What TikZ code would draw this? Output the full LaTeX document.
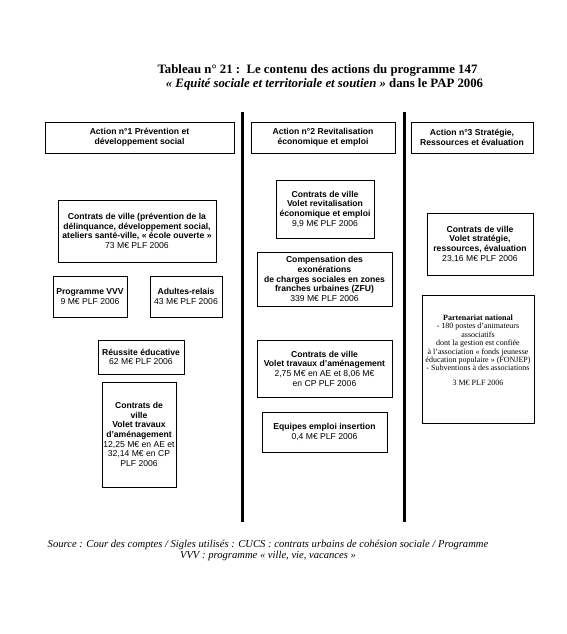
\documentclass[tikz,border=0pt]{standalone}
\usepackage{fontspec}
\setmainfont{Liberation Serif}
\setsansfont{Liberation Sans}
\begin{document}
\begin{tikzpicture}[x=1pt,y=-1pt,
	cadre/.style={draw,line width=0.7pt,align=center,inner sep=1pt,font=\sffamily\fontsize{8.6}{9.7}\selectfont},
	titre/.style={font=\bfseries\fontsize{12.8}{14}\selectfont,inner sep=0pt}]
	\useasboundingbox (0,0) rectangle (566,634);
	\node[titre] (titre1) at (317.5,70) {Tableau n° 21 :\ \ Le contenu des actions du programme 147};
	\node[titre] (titre2) at (324.5,84) {\textit{« Equité sociale et territoriale et soutien »} dans le PAP 2006};
	\draw[line width=3pt] (242,112) -- (242,522);
	\draw[line width=3pt] (404,112) -- (404,522);
	\node[cadre,minimum width=189pt,minimum height=31pt] (action1) at (139.5,137.5) {\textbf{Action n°1 Prévention et}\\\textbf{développement social}};
	\node[cadre,minimum width=144pt,minimum height=31pt] (action2) at (323,137.5) {\textbf{Action n°2 Revitalisation}\\\textbf{économique et emploi}};
	\node[cadre,minimum width=122pt,minimum height=31pt] (action3) at (472,137.5) {\textbf{Action n°3 Stratégie,}\\\textbf{Ressources et évaluation}};
	\node[cadre,minimum width=158pt,minimum height=62pt] (prevention) at (137,231) {\textbf{Contrats de ville (prévention de la}\\\textbf{délinquance, développement social,}\\\textbf{ateliers santé-ville, « école ouverte »}\\73 M€ PLF 2006};
	\node[cadre,minimum width=74pt,minimum height=41pt] (vvv) at (90,296.5) {\textbf{Programme VVV}\\9 M€ PLF 2006};
	\node[cadre,minimum width=72pt,minimum height=41pt] (adultes) at (186,296.5) {\textbf{Adultes-relais}\\43 M€ PLF 2006};
	\node[cadre,minimum width=86pt,minimum height=34pt] (reussite) at (141,357) {\textbf{Réussite éducative}\\62 M€ PLF 2006};
	\node[cadre,minimum width=74pt,minimum height=105pt] (travaux1) at (139,434.5) {\textbf{Contrats de}\\\textbf{ville}\\\textbf{Volet travaux}\\\textbf{d'aménagement}\\12,25 M€ en AE et\\32,14 M€ en CP\\PLF 2006};
	\node[cadre,minimum width=98pt,minimum height=58pt] (revitalisation) at (325,209) {\textbf{Contrats de ville}\\\textbf{Volet revitalisation}\\\textbf{économique et emploi}\\9,9 M€ PLF 2006};
	\node[cadre,minimum width=135pt,minimum height=54pt] (zfu) at (324.5,279) {\textbf{Compensation des}\\\textbf{exonérations}\\\textbf{de charges sociales en zones}\\\textbf{franches urbaines (ZFU)}\\339 M€ PLF 2006};
	\node[cadre,minimum width=135pt,minimum height=57pt] (travaux2) at (324.5,368.5) {\textbf{Contrats de ville}\\\textbf{Volet travaux d'aménagement}\\2,75 M€ en AE et 8,06 M€\\en CP PLF 2006};
	\node[cadre,minimum width=125pt,minimum height=40pt] (equipes) at (324.5,432) {\textbf{Equipes emploi insertion}\\0,4 M€ PLF 2006};
	\node[cadre,minimum width=106pt,minimum height=62pt] (strategie) at (480,244) {\textbf{Contrats de ville}\\\textbf{Volet stratégie,}\\\textbf{ressources, évaluation}\\23,16 M€ PLF 2006};
	\node[cadre,minimum width=112pt,minimum height=128pt] (partenariat) at (478,359) {};
	\node[align=center,inner sep=0pt,anchor=north,font=\rmfamily\fontsize{8}{8.4}\selectfont] (partenariat texte) at ([yshift=-20pt]partenariat.north) {\textbf{Partenariat national}\\- 180 postes d'animateurs\\associatifs\\dont la gestion est confiée\\à l'association « fonds jeunesse\\éducation populaire » (FONJEP)\\- Subventions à des associations\\[6pt]3 M€ PLF 2006};
	\node[align=center,inner sep=0pt,font=\itshape\fontsize{10.6}{11}\selectfont] (source) at (268,550.5) {Source : Cour des comptes / Sigles utilisés : CUCS : contrats urbains de cohésion sociale / Programme\\VVV : programme « ville, vie, vacances »};
\end{tikzpicture}
\end{document}
